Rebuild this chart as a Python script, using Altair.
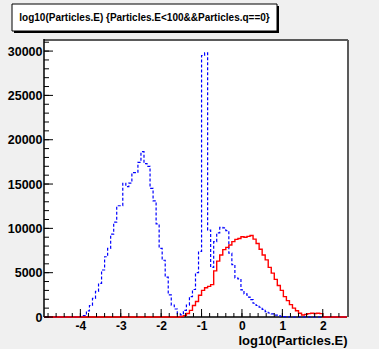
import altair as alt
import numpy as np
import pandas as pd

# Histogram binning of log10(E)
X_MIN, X_MAX, N_BINS = -4.9, 2.6, 100
Y_MAX = 31250

# Dashed blue histogram: counts per bin, starting at bin index BLUE_FIRST_BIN
BLUE_FIRST_BIN = 13
BLUE_COUNTS = [
    150, 700, 1300, 2100, 2900, 3800, 5300, 6800, 7750, 9350,
    10700, 12550, 12550, 15080, 14700, 15100, 16280, 16280, 17450, 18650,
    17300, 17000, 14500, 13100, 10500, 7750, 6400, 4500, 2500, 1350,
    900, 350, 250, 750, 1350, 2300, 3100, 5000, 7400, 29500,
    29800, 9800, 5600, 8500, 9500, 10100, 10050, 9750, 7200, 5900,
    4400, 4300, 3050, 2600, 2250, 1950, 1550, 1300, 1100, 850,
    600, 450, 350, 220, 130, 70, 40, 20, 10,
]

# Solid red histogram
RED_FIRST_BIN = 45
RED_COUNTS = [
    50, 150, 400, 750, 1300, 1750, 2450, 3000, 3300, 3450,
    3650, 5200, 6300, 7000, 7600, 7860, 8120, 8500, 8760, 8850,
    9050, 9000, 9100, 9200, 8780, 8300, 7650, 7000, 6450, 5600,
    4950, 4250, 3550, 3000, 2300, 1850, 1400, 1000, 700, 430,
    230, 300, 380, 420, 400, 420, 380,
]

TITLE = "log10(Particles.E) {Particles.E<100&&Particles.q==0}"
X_TITLE = "log10(Particles.E)"
X_LABELS = [-4, -3, -2, -1, 0, 1, 2]
Y_LABELS = [0, 5000, 10000, 15000, 20000, 25000, 30000]

W, H = 303, 277
FONT = "Liberation Sans"

edges = X_MIN + np.arange(N_BINS + 1) * (X_MAX - X_MIN) / N_BINS


def step_frame(first_bin, counts):
    full = np.zeros(N_BINS)
    full[first_bin:first_bin + len(counts)] = counts
    ys = list(full) + [full[-1]]
    return pd.DataFrame({"x": edges, "y": ys})


blue_df = step_frame(BLUE_FIRST_BIN, BLUE_COUNTS)
red_df = step_frame(RED_FIRST_BIN, RED_COUNTS)

xscale = alt.Scale(domain=[X_MIN, X_MAX], nice=False, zero=False)
yscale = alt.Scale(domain=[0, Y_MAX], nice=False, zero=False)

x_axis = alt.Axis(
    values=X_LABELS, labelExpr="'' + datum.value", ticks=False, domain=False, grid=False,
    labelFont=FONT, labelFontWeight="bold", labelFontSize=12, labelColor="black",
    labelPadding=3, title=X_TITLE, titleFont=FONT, titleFontWeight="bold",
    titleFontSize=13, titleColor="black", titleAnchor="end", titleAlign="right",
    titleX=W, titleY=27, titleBaseline="alphabetic",
)
y_axis = alt.Axis(
    values=Y_LABELS, format="d", ticks=False, domain=False, grid=False,
    labelFont=FONT, labelFontWeight="bold", labelFontSize=12.5, labelColor="black",
    labelPadding=2, title="",
)


def xenc(field):
    return alt.X(field, type="quantitative", scale=xscale, axis=x_axis)


def yenc(field):
    return alt.Y(field, type="quantitative", scale=yscale, axis=y_axis)


one = alt.Data(values=[{"a": 1}])

# frame: gray top/right border, black axis lines left/bottom
frame_top = alt.Chart(one).mark_rule(color="#5a5a5a", strokeWidth=2).encode(
    x=alt.value(0), x2=alt.value(W + 1), y=alt.value(0))
frame_right = alt.Chart(one).mark_rule(color="#5a5a5a", strokeWidth=2).encode(
    x=alt.value(W + 1), y=alt.value(0), y2=alt.value(H))
axis_left = alt.Chart(one).mark_rule(color="black", strokeWidth=1.5).encode(
    x=alt.value(0), y=alt.value(-1), y2=alt.value(H))
axis_bottom = alt.Chart(one).mark_rule(color="black", strokeWidth=1.5).encode(
    x=alt.value(0), x2=alt.value(W), y=alt.value(H))

blue = alt.Chart(blue_df).mark_line(
    interpolate="step-after", color="#0000ff", strokeWidth=1.2, strokeDash=[3, 2]
).encode(x=xenc("x"), y=yenc("y"))
red = alt.Chart(red_df).mark_line(
    interpolate="step-after", color="#ff0000", strokeWidth=1.4
).encode(x=xenc("x"), y=yenc("y"))

# inward tick marks
x_major = pd.DataFrame({"x": X_LABELS})
x_minor = pd.DataFrame({"x": np.round(np.arange(-4.8, 2.55, 0.2), 2)})
y_major = pd.DataFrame({"y": Y_LABELS})
y_minor = pd.DataFrame({"y": np.arange(0, 31001, 1000)})

xt_major = alt.Chart(x_major).mark_rule(color="black", strokeWidth=1).encode(
    x=xenc("x"), y=alt.value(H), y2=alt.value(H - 8))
xt_minor = alt.Chart(x_minor).mark_rule(color="black", strokeWidth=1).encode(
    x=xenc("x"), y=alt.value(H), y2=alt.value(H - 4))
yt_major = alt.Chart(y_major).mark_rule(color="black", strokeWidth=1).encode(
    y=yenc("y"), x=alt.value(0), x2=alt.value(9))
yt_minor = alt.Chart(y_minor).mark_rule(color="black", strokeWidth=1).encode(
    y=yenc("y"), x=alt.value(0), x2=alt.value(5))

# title box with drop shadow
box_shadow = alt.Chart(one).mark_rect(color="black").encode(
    x=alt.value(-30), x2=alt.value(235), y=alt.value(-34), y2=alt.value(-7))
box = alt.Chart(one).mark_rect(fill="white", stroke="black", strokeWidth=1).encode(
    x=alt.value(-32), x2=alt.value(233), y=alt.value(-36), y2=alt.value(-9))
title_text = alt.Chart(one).mark_text(
    text=TITLE, font=FONT, fontWeight="bold", fontSize=10, color="black",
    align="center", baseline="middle",
).encode(x=alt.value(100.5), y=alt.value(-22.5))

chart = alt.layer(
    frame_top, frame_right, axis_left, axis_bottom,
    blue, red,
    xt_major, xt_minor, yt_major, yt_minor,
    box_shadow, box, title_text,
).properties(
    width=W, height=H,
    autosize=alt.AutoSizeParams(type="none"),
    padding={"left": 44, "top": 40, "right": 32, "bottom": 32},
    background="#f0f0f0",
).configure_view(fill="white", strokeWidth=0)

chart.save("out.html", embed_options={"renderer": "svg", "actions": False})
